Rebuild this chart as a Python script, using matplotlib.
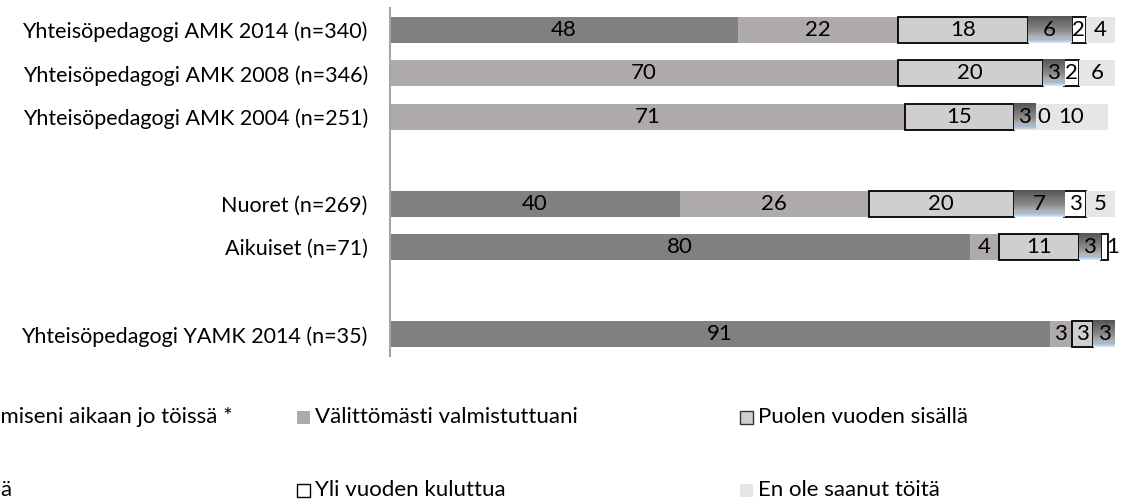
import numpy as np
import matplotlib
matplotlib.use('Agg')
import matplotlib.pyplot as plt
from matplotlib.colors import LinearSegmentedColormap
from matplotlib.patches import Rectangle

plt.rcParams['font.family'] = ['Lato', 'DejaVu Sans']
plt.rcParams['font.size'] = 15.5

nan = np.nan

categories = ['Yhteisöpedagogi AMK 2014 (n=340)', 'Yhteisöpedagogi AMK 2008 (n=346)',
              'Yhteisöpedagogi AMK 2004 (n=251)', '', 'Nuoret (n=269)', 'Aikuiset (n=71)',
              '', 'Yhteisöpedagogi YAMK 2014 (n=35)']

olin = [48, nan, nan, nan, 40, 80, nan, 91]
valitt = [22, 70, 71, nan, 26, 4, nan, 3]
puolen = [18, 20, 15, nan, 20, 11, nan, 3]
vuoden = [6, 3, 3, nan, 7, 3, nan, 3]
yli = [2, 2, 0, nan, 3, 1, nan, nan]
en_ole = [4, 6, 10, nan, 5, nan, nan, nan]

series_names = ['Olin valmistumiseni aikaan jo töissä *', 'Välittömästi valmistuttuani',
                'Puolen vuoden sisällä', 'Vuoden sisällä', 'Yli vuoden kuluttua',
                'En ole saanut töitä']

grad_cmap = LinearSegmentedColormap.from_list(
    'excel_grad', [(0, '#555555'), (0.55, '#8c8c8c'), (0.78, '#b4b4b4'),
                   (0.88, '#a2bad8'), (1, '#dde7f3')])

styles = [
    dict(color='#808080', edgecolor='none', lw=0),
    dict(color='#aeaaaa', edgecolor='none', lw=0),
    dict(color='#d0cece', edgecolor='black', lw=1.3),
    dict(color='#8a8a8a', edgecolor='none', lw=0),
    dict(color='white', edgecolor='black', lw=1.3),
    dict(color='#e7e6e6', edgecolor='none', lw=0),
]

W, H = 1133, 500
fig = plt.figure(figsize=(W / 100, H / 100), dpi=100)
ax = fig.add_axes([390 / W, 1 - 356 / H, (1115 - 390) / W, (356 - 8) / H])

y = np.arange(len(categories))
left = np.zeros(len(categories))
for k, vals in enumerate([olin, valitt, puolen, vuoden, yli, en_ole]):
    vals = np.array(vals, dtype=float)
    widths = np.nan_to_num(vals)
    st = styles[k]
    lws = [st['lw'] if w > 0 else 0 for w in widths]
    bars = ax.barh(y, widths, left=left, height=0.6, color=st['color'],
                   edgecolor=st['edgecolor'], linewidth=lws)
    if k == 3:
        # gradient fill like the Excel original
        grad = np.linspace(0, 1, 100).reshape(-1, 1)
        for p in bars:
            if p.get_width() > 0:
                x0, y0 = p.get_x(), p.get_y()
                ax.imshow(grad, extent=(x0, x0 + p.get_width(), y0 + p.get_height(), y0),
                          origin='upper', aspect='auto', cmap=grad_cmap,
                          clip_path=p, zorder=1.1)
    labels = ['' if np.isnan(v) else f'{v:g}' for v in vals]
    anns = ax.bar_label(bars, labels=labels, label_type='center', color='black', fontsize=16)
    # tiny segments: Excel nudges the label to the right
    for v, a in zip(vals, anns):
        if not np.isnan(v) and v < 2:
            a.xyann = (6, 0)
    left += widths

ax.set_xlim(0, 100)
ax.set_ylim(len(categories) - 0.5, -0.5)
ax.set_yticks(y)
ax.set_yticklabels(categories)
ax.set_xticks([])
ax.tick_params(axis='y', length=0, pad=16)
for s in ['top', 'right', 'bottom']:
    ax.spines[s].set_visible(False)
ax.spines['left'].set_color('#a6a6a6')
ax.spines['left'].set_linewidth(1.5)

# legend, laid out in even columns as in the original (first column runs off the left edge)
col_x = [-146, 297, 740]
row_y = [417, 490]
legend_faces = [('#808080', 'none'), ('#aeaaaa', 'none'), ('#d0cece', '#333333'),
                ('#8a8a8a', 'none'), ('white', 'black'), ('#e7e6e6', 'none')]
for i, name in enumerate(series_names):
    cx = col_x[i % 3]
    cy = row_y[i // 3]
    face, edge = legend_faces[i]
    fig.patches.append(Rectangle((cx / W, 1 - (cy + 6.5) / H), 13 / W, 13 / H,
                                 facecolor=face, edgecolor=edge, linewidth=1.0,
                                 transform=fig.transFigure))
    fig.text((cx + 18) / W, 1 - cy / H, name, ha='left', va='center', fontsize=16)

fig.savefig('out.png', dpi=100)
